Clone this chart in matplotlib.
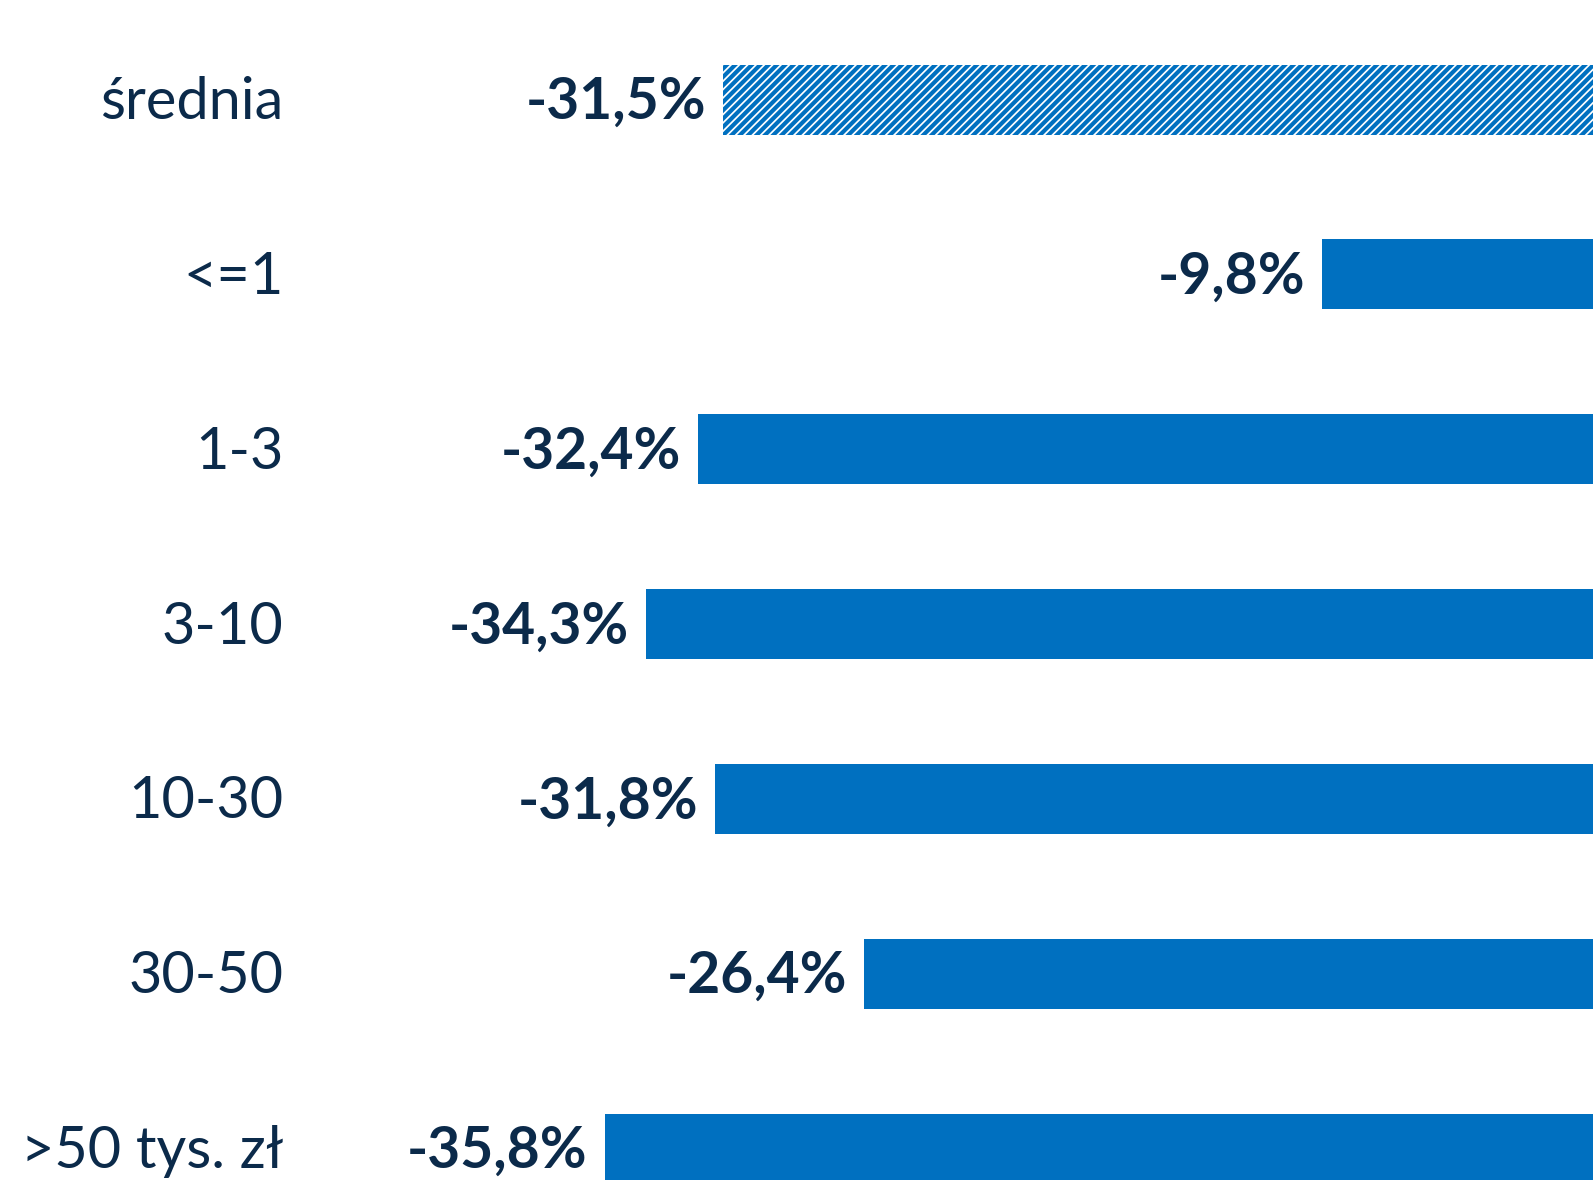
import matplotlib
matplotlib.use("Agg")
import matplotlib.pyplot as plt
from matplotlib.transforms import offset_copy

categories = ["średnia", "<=1", "1-3", "3-10", "10-30", "30-50", ">50 tys. zł"]
values = [-31.5, -9.8, -32.4, -34.3, -31.8, -26.4, -35.8]
labels = ["-31,5%", "-9,8%", "-32,4%", "-34,3%", "-31,8%", "-26,4%", "-35,8%"]

bar_color = "#0070C0"
text_color = "#0B2A4A"

plt.rcParams["font.family"] = ["Lato", "DejaVu Sans"]
plt.rcParams["hatch.linewidth"] = 3.0
plt.rcParams["hatch.color"] = bar_color

fig = plt.figure(figsize=(15.93, 11.80), dpi=100)
ax = fig.add_axes([0, 0, 1, 1])
ax.set_xlim(-57.7, 0)
ax.set_ylim(6.18, -0.57)
ax.axis("off")

ypos = list(range(len(categories)))
for i, (y, v) in enumerate(zip(ypos, values)):
    if i == 0:
        ax.barh(y, v, height=0.40, color="white", edgecolor=bar_color,
                hatch="////", linewidth=0)
    else:
        ax.barh(y, v, height=0.40, color=bar_color, linewidth=0)

lab_tr = offset_copy(ax.transData, fig=fig, x=-17, y=-3, units="dots")
for y, v, lab in zip(ypos, values, labels):
    ax.text(v, y, lab, transform=lab_tr, ha="right", va="center",
            fontsize=41, fontweight="bold", color=text_color)

cat_tr = offset_copy(ax.get_yaxis_transform(), fig=fig, x=0, y=-3, units="dots")
for y, c in zip(ypos, categories):
    ax.text(0.178, y, c, transform=cat_tr, ha="right", va="center",
            fontsize=41.5, color=text_color)

fig.savefig("out.png", dpi=100)
